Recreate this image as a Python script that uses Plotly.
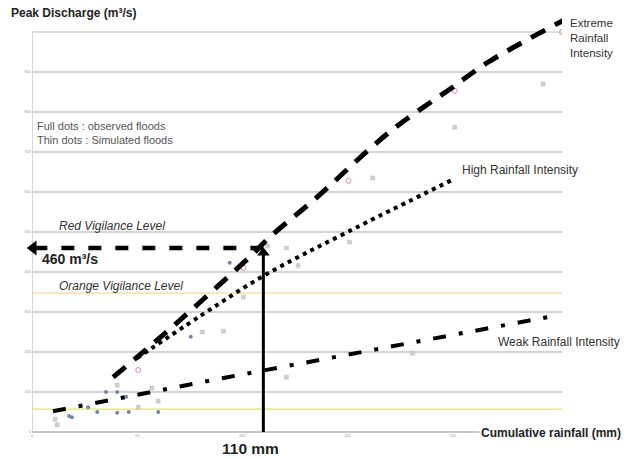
import plotly.graph_objects as go

# ---------------- data ----------------
# observed floods (full dots)
obs_rain = [17.6, 19, 26.7, 31, 35.2, 40.5, 44.8, 40.5, 46, 60, 75.5, 94]
obs_peak = [40, 37, 62, 50, 100, 100, 88, 48, 50, 50, 238, 423]
# simulated floods (thin dots, grey)
sim_rain = [12, 11, 40.5, 50.5, 57, 60, 81, 91, 100.5, 112, 121, 126.5, 151, 121, 181, 162, 201, 243]
sim_peak = [18, 32, 117, 62, 110, 77, 250, 252, 337, 465, 460, 416, 475, 137, 197, 635, 762, 870]
# simulated floods (thin dots, red)
simr_rain = [50.5, 100.5, 150.5, 201, 252]
simr_peak = [155, 410, 628, 853, 1000]

# rainfall-intensity curves
ext_rain = [38.6, 60, 80, 104, 113, 134, 170, 200, 217, 253]
ext_peak = [137, 232, 325, 440, 487, 580, 750, 862, 925, 1030]
high_rain = [50, 80, 110, 150, 200.5]
high_peak = [185, 290, 390, 500, 632]
weak_rain = [10, 93, 167, 250]
weak_peak = [52, 137, 210, 292]

# vigilance levels (m3/s)
RED_LEVEL = 500
ORANGE_LEVEL = 347
YELLOW_LEVEL = 57

# reading example
RAIN_MM = 110
PEAK_Q = 460

x_ticks = [0, 50, 100, 150, 200]
y_ticks = [0, 100, 200, 300, 400, 500, 600, 700, 800, 900]

X_MAX = 252
Y_MAX = 1060

FONT = "Arial, Liberation Sans, sans-serif"

fig = go.Figure()

# vigilance lines
for lvl, col, w in [(YELLOW_LEVEL, "#e2e27a", 1.3), (ORANGE_LEVEL, "#f0dc9a", 1.3), (RED_LEVEL, "#e03b3b", 1.5)]:
    fig.add_shape(type="line", x0=0, x1=X_MAX, y0=lvl, y1=lvl, xref="x", yref="y",
                  line=dict(color=col, width=w), layer="below")

# y-axis line
fig.add_shape(type="line", x0=0, x1=0, y0=0, y1=1000, xref="x", yref="y",
              line=dict(color="#c8c8c8", width=1.5), layer="below")

# scatter points
fig.add_trace(go.Scatter(x=sim_rain, y=sim_peak, mode="markers",
                         marker=dict(symbol="square", size=4, color="#cfcfcf",
                                     line=dict(color="#bdbdbd", width=0.5)),
                         showlegend=False, hoverinfo="skip"))
fig.add_trace(go.Scatter(x=simr_rain, y=simr_peak, mode="markers",
                         marker=dict(symbol="circle-open", size=5, color="#e08a9a",
                                     line=dict(width=1)),
                         showlegend=False, hoverinfo="skip"))
fig.add_trace(go.Scatter(x=obs_rain, y=obs_peak, mode="markers",
                         marker=dict(symbol="circle", size=4, color="#7286ad"),
                         showlegend=False, hoverinfo="skip"))

# intensity curves
fig.add_trace(go.Scatter(x=weak_rain, y=weak_peak, mode="lines",
                         line=dict(color="black", width=4, dash="13px,13px,4px,13px"),
                         showlegend=False, hoverinfo="skip"))
fig.add_trace(go.Scatter(x=high_rain, y=high_peak, mode="lines", line_shape="spline",
                         line=dict(color="black", width=4, dash="4px,4.5px"),
                         showlegend=False, hoverinfo="skip"))
fig.add_trace(go.Scatter(x=ext_rain, y=ext_peak, mode="lines", line_shape="spline",
                         line=dict(color="black", width=5, dash="16px,11px"),
                         showlegend=False, hoverinfo="skip"))

# reading arrows
fig.add_trace(go.Scatter(x=[RAIN_MM, 2], y=[PEAK_Q, PEAK_Q], mode="lines",
                         line=dict(color="black", width=4.5, dash="13px,14px"),
                         showlegend=False, hoverinfo="skip"))
fig.add_trace(go.Scatter(x=[RAIN_MM, RAIN_MM], y=[0, PEAK_Q - 15], mode="lines",
                         line=dict(color="black", width=3),
                         showlegend=False, hoverinfo="skip"))
fig.add_trace(go.Scatter(x=[0.6], y=[PEAK_Q], mode="markers", cliponaxis=False,
                         marker=dict(symbol="triangle-left", size=13, color="black"),
                         showlegend=False, hoverinfo="skip"))
fig.add_trace(go.Scatter(x=[RAIN_MM], y=[PEAK_Q - 12], mode="markers", cliponaxis=False,
                         marker=dict(symbol="triangle-up", size=11, color="black"),
                         showlegend=False, hoverinfo="skip"))

L, R, T, B = 32, 65, 8, 27
PW, PH = 627 - L - R, 459 - T - B


def px(xp):
    return (xp - L) / PW


def py(yp):
    return (459 - B - yp) / PH


ann = []


def add(text, xp, yp, size, color="#333", xanchor="left", bg=None, align="left"):
    d = dict(text=text, x=px(xp), y=py(yp), xref="paper", yref="paper", showarrow=False,
             xanchor=xanchor, yanchor="middle", align=align,
             font=dict(family=FONT, size=size, color=color))
    if bg:
        d["bgcolor"] = bg
    ann.append(d)


add("<b>Peak Discharge (m³/s)</b>", 9, 13, 12, "#222", bg="white")
add("<b>Cumulative rainfall (mm)</b>", 479, 433, 12, "#222", bg="white")
add("Extreme<br>Rainfall<br>Intensity", 568, 38, 11.5, "#333")
add("High Rainfall Intensity", 460, 170, 12, "#333")
add("Weak Rainfall Intensity", 496, 342, 12, "#333")
add("Full dots : observed floods<br>Thin dots : Simulated floods", 35, 133, 11, "#555")
add("<i>Red Vigilance Level</i>", 57, 226, 12, "#333")
add("<i>Orange Vigilance Level</i>", 57, 286, 12, "#333")
add("<b>460 m³/s</b>", 40, 259, 14, "#222")
add("<b>110 mm</b>", 220, 448, 15.5, "#222")

fig.update_layout(
    width=627, height=459,
    margin=dict(l=L, r=R, t=T, b=B, autoexpand=False),
    paper_bgcolor="white", plot_bgcolor="white",
    annotations=ann,
    xaxis=dict(range=[0, X_MAX], tickvals=x_ticks, ticktext=[str(v) for v in x_ticks],
               showgrid=False, zeroline=False, showline=False, ticks="",
               tickfont=dict(family=FONT, size=4, color="#999"), automargin=False,
               fixedrange=True),
    yaxis=dict(range=[0, Y_MAX], tickvals=y_ticks, ticktext=[str(v) for v in y_ticks] ,
               showgrid=True, gridcolor="#d4d4d4", gridwidth=1.5,
               zeroline=True, zerolinecolor="#c8c8c8", zerolinewidth=1.5,
               showline=False, ticks="",
               tickfont=dict(family=FONT, size=4, color="#999"), automargin=False,
               fixedrange=True),
)
# the 1000 gridline (tick labels end at 900)
fig.add_shape(type="line", x0=0, x1=X_MAX, y0=1000, y1=1000, xref="x", yref="y",
              line=dict(color="#d4d4d4", width=1.5), layer="below")

fig.write_html("out.html", config={"displayModeBar": False},
               post_script="document.body.style.margin='0';document.body.style.overflow='hidden';")
